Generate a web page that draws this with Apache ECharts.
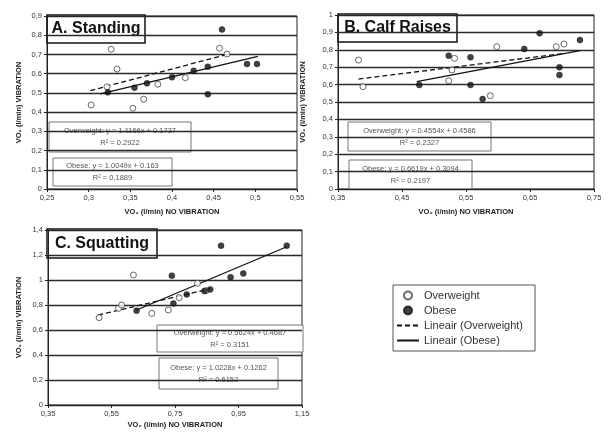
<!DOCTYPE html>
<html><head><meta charset="utf-8">
<script src="https://cdn.jsdelivr.net/npm/echarts@6/dist/echarts.min.js"></script>
<style>html,body{margin:0;padding:0;background:#fff}#c{width:612px;height:439px}</style>
</head><body><div id="c"></div>
<script>
// ---- Data ----
const standingOverweight = [[0.327,0.727],[0.334,0.624],[0.322,0.532],[0.303,0.437],[0.366,0.467],[0.353,0.42],[0.383,0.545],[0.416,0.579],[0.457,0.732],[0.466,0.702]];
const standingObese = [[0.323,0.503],[0.355,0.527],[0.370,0.55],[0.40,0.581],[0.426,0.615],[0.443,0.636],[0.443,0.493],[0.46,0.83],[0.490,0.65],[0.502,0.65]];
const standingTrendOverweight = [[0.302,0.512],[0.466,0.70]];
const standingTrendObese = [[0.314,0.495],[0.503,0.69]];

const calfOverweight = [[0.382,0.741],[0.389,0.588],[0.523,0.622],[0.528,0.684],[0.532,0.751],[0.588,0.536],[0.598,0.818],[0.691,0.818],[0.703,0.833]];
const calfObese = [[0.477,0.598],[0.523,0.766],[0.557,0.757],[0.557,0.598],[0.576,0.517],[0.641,0.805],[0.665,0.895],[0.696,0.699],[0.696,0.655],[0.728,0.856]];
const calfTrendOverweight = [[0.382,0.632],[0.703,0.779]];
const calfTrendObese = [[0.473,0.617],[0.728,0.795]];

const squatOverweight = [[0.511,0.699],[0.572,0.773],[0.582,0.80],[0.619,1.04],[0.677,0.733],[0.729,0.76],[0.763,0.859],[0.821,0.973],[0.848,0.915]];
const squatObese = [[0.629,0.755],[0.745,0.813],[0.74,1.035],[0.787,0.885],[0.843,0.912],[0.861,0.925],[0.895,1.275],[0.925,1.022],[0.965,1.053],[1.102,1.275]];
const squatTrendOverweight = [[0.508,0.72],[0.861,0.93]];
const squatTrendObese = [[0.629,0.76],[1.102,1.266]];

const panelTitles = ['A. Standing','B. Calf Raises','C. Squatting'];
const equations = [
  [['Overweight: y = 1.1166x + 0.1737','R² = 0.2922'],['Obese: y = 1.0049x + 0.163','R² = 0.1889']],
  [['Overweight: y = 0.4554x + 0.4586','R² = 0.2327'],['Obese: y = 0.6619x + 0.3094','R² = 0.2197']],
  [['Overweight: y = 0.5624x + 0.4687','R² = 0.3151'],['Obese: y = 1.0228x + 0.1262','R² = 0.6152']]
];
const legendNames = ['Overweight','Obese','Lineair (Overweight)','Lineair (Obese)'];
const xTitle = 'VO₂ (l/min) NO VIBRATION';
const yTitle = 'VO₂ (l/min) VIBRATION';

// ---- Chart ----
const FONT = '"Liberation Sans", Arial, sans-serif';
const chart = echarts.init(document.getElementById('c'), null, {renderer:'canvas'});
function fmt(v){ return String(+(+v).toFixed(2)).replace('.', ','); }

const grids = [
  {left:47, top:16, width:250, height:173},
  {left:338, top:15, width:256, height:174},
  {left:48, top:230, width:254, height:175}
];
const xRanges = [[0.25,0.55,0.05],[0.35,0.75,0.1],[0.35,1.15,0.2]];
const yRanges = [[0,0.9,0.1],[0,1,0.1],[0,1.4,0.2]];
const xNameGap = [19,19,16];
const yNameGap = [24,31,25];

function xAx(i){
  return {gridIndex:i, type:'value', min:xRanges[i][0], max:xRanges[i][1], interval:xRanges[i][2],
    name:xTitle, nameLocation:'middle', nameGap:xNameGap[i],
    nameTextStyle:{fontFamily:FONT, fontSize:7.5, fontWeight:'bold', color:'#222'},
    axisLine:{show:true, onZero:false, lineStyle:{color:'#222', width:1}},
    axisTick:{show:true, length:3, lineStyle:{color:'#222'}},
    axisLabel:{formatter:fmt, fontFamily:FONT, fontSize:7.5, color:'#333', margin:5},
    splitLine:{show:false}};
}
function yAx(i){
  return {gridIndex:i, type:'value', min:yRanges[i][0], max:yRanges[i][1], interval:yRanges[i][2],
    name:yTitle, nameLocation:'middle', nameGap:yNameGap[i], nameRotate:90,
    nameTextStyle:{fontFamily:FONT, fontSize:7.5, fontWeight:'bold', color:'#222'},
    axisLine:{show:true, onZero:false, lineStyle:{color:'#222', width:1}},
    axisTick:{show:true, length:3, lineStyle:{color:'#222'}},
    axisLabel:{formatter:fmt, fontFamily:FONT, fontSize:7.5, color:'#333', margin:5},
    splitLine:{show:true, lineStyle:{color:'#2a2a2a', width:1.3}}};
}
function scatter(name, data, i, filled){
  return {type:'scatter', name, xAxisIndex:i, yAxisIndex:i, data, symbol:'circle', symbolSize:6, z:4,
    itemStyle: filled ? {color:'#111', borderColor:'#111', borderWidth:0.5} : {color:'#fff', borderColor:'#444', borderWidth:1}};
}
function trend(name, data, i, dashed){
  return {type:'line', name, xAxisIndex:i, yAxisIndex:i, data, symbol:'none', z:3,
    itemStyle:{color:'#111'},
    lineStyle:{color:'#111', width:1.3, type: dashed ? [5,3] : 'solid'}};
}

const series = [];
const sets = [
  [standingOverweight, standingObese, standingTrendOverweight, standingTrendObese],
  [calfOverweight, calfObese, calfTrendOverweight, calfTrendObese],
  [squatOverweight, squatObese, squatTrendOverweight, squatTrendObese]
];
sets.forEach((s,i)=>{
  series.push(trend(legendNames[2], s[2], i, true));
  series.push(trend(legendNames[3], s[3], i, false));
  series.push(scatter(legendNames[0], s[0], i, false));
  series.push(scatter(legendNames[1], s[1], i, true));
});

function box(x,y,w,h,lines,opt){
  return {type:'group', z:10, children:[
    {type:'rect', shape:{x,y,width:w,height:h}, style:{fill:'#fff', stroke:opt.stroke, lineWidth:opt.lw}},
    {type:'text', style:{x:x+w/2, y:y+h/2, text:lines.join('\n'), align:'center', verticalAlign:'middle',
      fontFamily:FONT, fontSize:opt.fs, fontWeight:opt.fw, fill:opt.fill, lineHeight:opt.lh}}
  ]};
}
const titleBoxes = [[47,15,98,28],[338,14,119,28],[47,229,110,29]];
const eqBoxes = [
  [[49,122,142,30],[53,158,119,28]],
  [[348,122,143,29],[349,160,123,29]],
  [[157,325,146,27],[159,358,119,31]]
];
const graphics = [];
titleBoxes.forEach((b,i)=>graphics.push(box(b[0],b[1],b[2],b[3],[panelTitles[i]],{stroke:'#111',lw:1.5,fs:16,fw:'bold',fill:'#111',lh:18})));
eqBoxes.forEach((pair,i)=>pair.forEach((b,j)=>graphics.push(box(b[0],b[1],b[2],b[3],equations[i][j],{stroke:'#777',lw:1,fs:7.5,fw:'normal',fill:'#555',lh:12}))));

const hiddenDot = {color:'rgba(0,0,0,0)', borderColor:'rgba(0,0,0,0)', borderWidth:0};
chart.setOption({
  animation:false,
  backgroundColor:'#fff',
  grid: grids.map(g=>Object.assign({show:true, borderColor:'#222', borderWidth:1, backgroundColor:'transparent'}, g)),
  xAxis: [0,1,2].map(xAx),
  yAxis: [0,1,2].map(yAx),
  legend:{data:[
      {name:legendNames[0]},
      {name:legendNames[1]},
      {name:legendNames[2], itemStyle:hiddenDot},
      {name:legendNames[3], itemStyle:hiddenDot}
    ], orient:'vertical', left:393, top:285, itemGap:4, itemWidth:22, itemHeight:8,
    padding:[5,12,5,3], borderColor:'#555', borderWidth:1, backgroundColor:'#fff',
    textStyle:{fontFamily:FONT, fontSize:11, color:'#333'}},
  series,
  graphic: graphics
});
</script></body></html>
